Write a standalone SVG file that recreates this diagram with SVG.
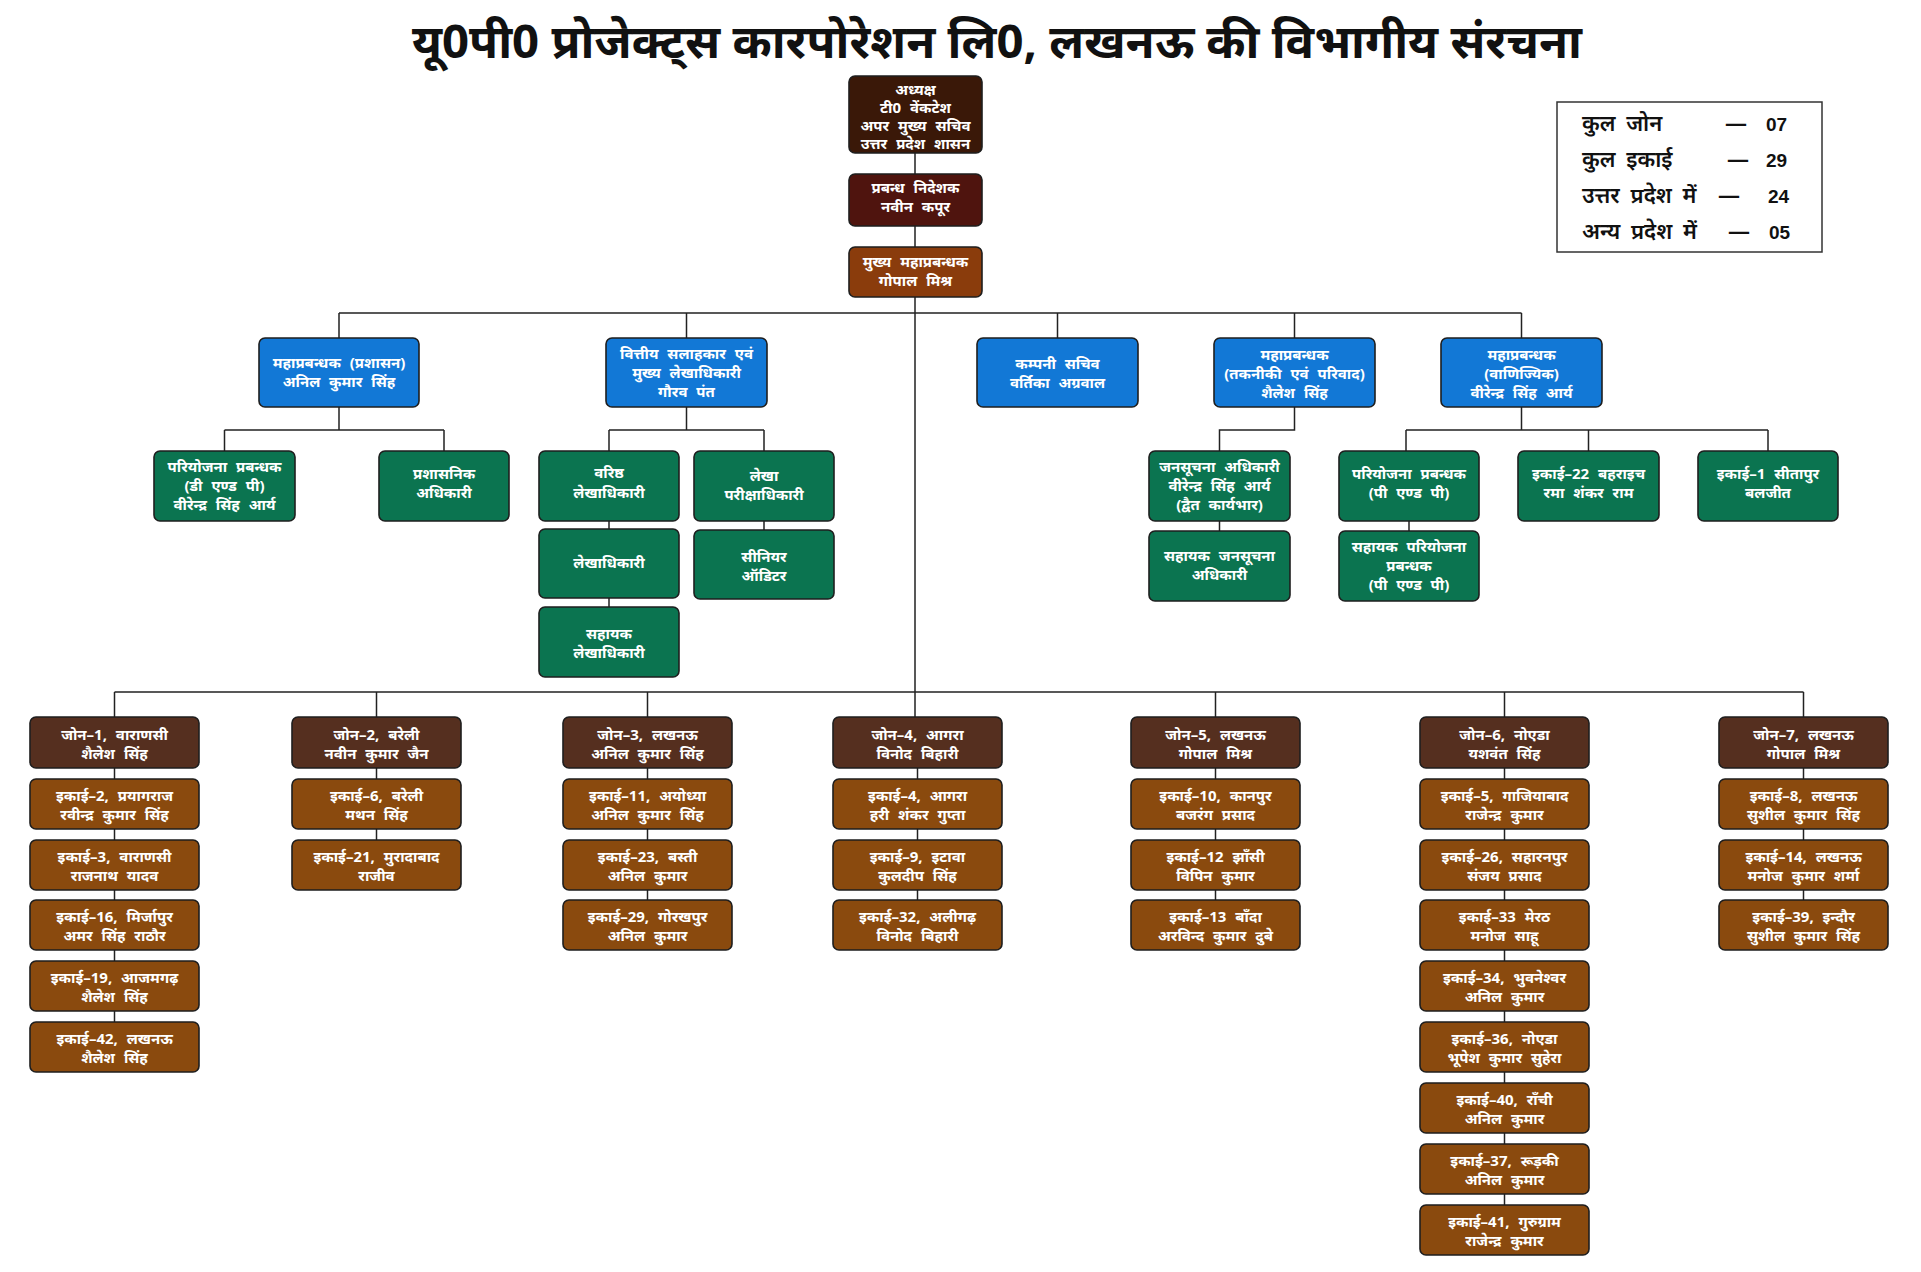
<svg xmlns="http://www.w3.org/2000/svg" width="1921" height="1272" viewBox="0 0 1921 1272">
<style>
text{font-family:"Noto Sans","Noto Sans Devanagari","Lohit Devanagari","FreeSans",sans-serif;fill:#fff;text-anchor:middle;font-size:15px;font-weight:bold;word-spacing:5px}
.title{fill:#111;font-size:46px;word-spacing:0}
.lg{fill:#111;text-anchor:start;font-size:22px;font-weight:600;word-spacing:5px}
.num{fill:#111;text-anchor:start;font-family:"Liberation Sans",Arial,sans-serif;font-size:19px;font-weight:bold}
rect.n{stroke:#1e1e1e;stroke-width:1.6}
.c1{fill:#3a1808}.c2{fill:#4f140e}.c3{fill:#8a3c0c}.bl{fill:#1278d6}.gr{fill:#0b7450}.zn{fill:#552f1f}.un{fill:#8a4a0e}
.ln{stroke:#222;stroke-width:1.5;fill:none}
</style>
<rect width="1921" height="1272" fill="#fff"/>
<text class="title" x="997" y="58" textLength="1170" lengthAdjust="spacingAndGlyphs">यू0पी0 प्रोजेक्ट्स कारपोरेशन लि0, लखनऊ की विभागीय संरचना</text>

<g id="legend">
<rect x="1557" y="102" width="265" height="150" fill="#fff" stroke="#333" stroke-width="1.5"/>
<text class="lg"><tspan x="1582" y="131">कुल जोन</tspan><tspan x="1725" y="131">—</tspan></text><text class="num" x="1766" y="131">07</text>
<text class="lg"><tspan x="1582" y="167">कुल इकाई</tspan><tspan x="1727" y="167">—</tspan></text><text class="num" x="1766" y="167">29</text>
<text class="lg"><tspan x="1582" y="203">उत्तर प्रदेश में</tspan><tspan x="1718" y="203">—</tspan></text><text class="num" x="1768" y="203">24</text>
<text class="lg"><tspan x="1582" y="239">अन्य प्रदेश में</tspan><tspan x="1728" y="239">—</tspan></text><text class="num" x="1769" y="239">05</text>
</g>

<g id="connectors">
<path class="ln" d="M915 153V174M915 226V247M915 297V717"/>
<path class="ln" d="M339 313H1521.5M339 313V338M686.5 313V338M1057.5 313V338M1294.5 313V338M1521.5 313V338"/>
<path class="ln" d="M339 407V430M224.5 430H444M224.5 430V451M444 430V451"/>
<path class="ln" d="M686.5 407V430M609 430H764M609 430V451M764 430V451M609 521V529M609 598V607M764 521V530"/>
<path class="ln" d="M1294.5 407V430H1219.5V451M1219.5 521V531"/>
<path class="ln" d="M1521.5 407V430M1406 430H1768M1406 430V451M1588.5 430V451M1768 430V451M1409 521V531"/>
<path class="ln" d="M114.5 692H1803.5M114.5 692V717M376.5 692V717M647.5 692V717M1215.5 692V717M1504.5 692V717M1803.5 692V717"/>
<path class="ln" d="M114.5 768V1022"/>
<path class="ln" d="M376.5 768V840"/>
<path class="ln" d="M647.5 768V900"/>
<path class="ln" d="M917.5 768V900"/>
<path class="ln" d="M1215.5 768V900"/>
<path class="ln" d="M1504.5 768V1205"/>
<path class="ln" d="M1803.5 768V900"/>
</g>

<g id="n-adhyaksh"><rect class="n c1" x="849" y="76" width="133" height="77" rx="6"/>
<text><tspan x="915.5" y="95">अध्यक्ष</tspan><tspan x="915.5" y="113">टी0 वेंकटेश</tspan><tspan x="915.5" y="131">अपर मुख्य सचिव</tspan><tspan x="915.5" y="149">उत्तर प्रदेश शासन</tspan></text></g>
<g id="n-md"><rect class="n c2" x="849" y="174" width="133" height="52" rx="6"/>
<text><tspan x="915.5" y="193">प्रबन्ध निदेशक</tspan><tspan x="915.5" y="212">नवीन कपूर</tspan></text></g>
<g id="n-cgm"><rect class="n c3" x="849" y="247" width="133" height="50" rx="6"/>
<text><tspan x="915.5" y="267">मुख्य महाप्रबन्धक</tspan><tspan x="915.5" y="286">गोपाल मिश्र</tspan></text></g>

<g id="n-gm-admin"><rect class="n bl" x="259" y="338" width="160" height="69" rx="6"/>
<text><tspan x="339" y="368">महाप्रबन्धक (प्रशासन)</tspan><tspan x="339" y="387">अनिल कुमार सिंह</tspan></text></g>
<g id="n-fa"><rect class="n bl" x="606" y="338" width="161" height="69" rx="6"/>
<text><tspan x="686.5" y="359">वित्तीय सलाहकार एवं</tspan><tspan x="686.5" y="378">मुख्य लेखाधिकारी</tspan><tspan x="686.5" y="397">गौरव पंत</tspan></text></g>
<g id="n-cs"><rect class="n bl" x="977" y="338" width="161" height="69" rx="6"/>
<text><tspan x="1057.5" y="369">कम्पनी सचिव</tspan><tspan x="1057.5" y="388">वर्तिका अग्रवाल</tspan></text></g>
<g id="n-gm-tech"><rect class="n bl" x="1214" y="338" width="161" height="69" rx="6"/>
<text><tspan x="1294.5" y="360">महाप्रबन्धक</tspan><tspan x="1294.5" y="379">(तकनीकी एवं परिवाद)</tspan><tspan x="1294.5" y="398">शैलेश सिंह</tspan></text></g>
<g id="n-gm-comm"><rect class="n bl" x="1441" y="338" width="161" height="69" rx="6"/>
<text><tspan x="1521.5" y="360">महाप्रबन्धक</tspan><tspan x="1521.5" y="379">(वाणिज्यिक)</tspan><tspan x="1521.5" y="398">वीरेन्द्र सिंह आर्य</tspan></text></g>

<g id="n-pm-dp"><rect class="n gr" x="154" y="451" width="141" height="70" rx="6"/>
<text><tspan x="224.5" y="472">परियोजना प्रबन्धक</tspan><tspan x="224.5" y="491">(डी एण्ड पी)</tspan><tspan x="224.5" y="510">वीरेन्द्र सिंह आर्य</tspan></text></g>
<g id="n-ao"><rect class="n gr" x="379" y="451" width="130" height="70" rx="6"/>
<text><tspan x="444" y="479">प्रशासनिक</tspan><tspan x="444" y="498">अधिकारी</tspan></text></g>
<g id="n-sr-acc"><rect class="n gr" x="539" y="451" width="140" height="70" rx="6"/>
<text><tspan x="609" y="478">वरिष्ठ</tspan><tspan x="609" y="498">लेखाधिकारी</tspan></text></g>
<g id="n-audit"><rect class="n gr" x="694" y="451" width="140" height="70" rx="6"/>
<text><tspan x="764" y="481">लेखा</tspan><tspan x="764" y="500">परीक्षाधिकारी</tspan></text></g>
<g id="n-acc"><rect class="n gr" x="539" y="529" width="140" height="69" rx="6"/>
<text x="609" y="568">लेखाधिकारी</text></g>
<g id="n-sr-aud"><rect class="n gr" x="694" y="530" width="140" height="69" rx="6"/>
<text><tspan x="764" y="562">सीनियर</tspan><tspan x="764" y="581">ऑडिटर</tspan></text></g>
<g id="n-asst-acc"><rect class="n gr" x="539" y="607" width="140" height="70" rx="6"/>
<text><tspan x="609" y="639">सहायक</tspan><tspan x="609" y="658">लेखाधिकारी</tspan></text></g>
<g id="n-pio"><rect class="n gr" x="1149" y="451" width="141" height="70" rx="6"/>
<text><tspan x="1219.5" y="472">जनसूचना अधिकारी</tspan><tspan x="1219.5" y="491">वीरेन्द्र सिंह आर्य</tspan><tspan x="1219.5" y="510">(द्वैत कार्यभार)</tspan></text></g>
<g id="n-apio"><rect class="n gr" x="1149" y="531" width="141" height="70" rx="6"/>
<text><tspan x="1219.5" y="561">सहायक जनसूचना</tspan><tspan x="1219.5" y="580">अधिकारी</tspan></text></g>
<g id="n-pm-pp"><rect class="n gr" x="1339" y="451" width="140" height="70" rx="6"/>
<text><tspan x="1409" y="479">परियोजना प्रबन्धक</tspan><tspan x="1409" y="498">(पी एण्ड पी)</tspan></text></g>
<g id="n-apm-pp"><rect class="n gr" x="1339" y="531" width="140" height="70" rx="6"/>
<text><tspan x="1409" y="552">सहायक परियोजना</tspan><tspan x="1409" y="571">प्रबन्धक</tspan><tspan x="1409" y="590">(पी एण्ड पी)</tspan></text></g>
<g id="n-u22"><rect class="n gr" x="1518" y="451" width="141" height="70" rx="6"/>
<text><tspan x="1588.5" y="479">इकाई–22 बहराइच</tspan><tspan x="1588.5" y="498">रमा शंकर राम</tspan></text></g>
<g id="n-u1"><rect class="n gr" x="1698" y="451" width="140" height="70" rx="6"/>
<text><tspan x="1768" y="479">इकाई–1 सीतापुर</tspan><tspan x="1768" y="498">बलजीत</tspan></text></g>

<g id="zone1"><rect class="n zn" x="30" y="717" width="169" height="51" rx="6"/>
<text><tspan x="114.5" y="740">जोन–1, वाराणसी</tspan><tspan x="114.5" y="759">शैलेश सिंह</tspan></text></g>
<g id="z1u2"><rect class="n un" x="30" y="779" width="169" height="50" rx="6"/><text><tspan x="114.5" y="801">इकाई–2, प्रयागराज</tspan><tspan x="114.5" y="820">रवीन्द्र कुमार सिंह</tspan></text></g>
<g id="z1u3"><rect class="n un" x="30" y="840" width="169" height="50" rx="6"/><text><tspan x="114.5" y="862">इकाई–3, वाराणसी</tspan><tspan x="114.5" y="881">राजनाथ यादव</tspan></text></g>
<g id="z1u16"><rect class="n un" x="30" y="900" width="169" height="50" rx="6"/><text><tspan x="114.5" y="922">इकाई–16, मिर्जापुर</tspan><tspan x="114.5" y="941">अमर सिंह राठौर</tspan></text></g>
<g id="z1u19"><rect class="n un" x="30" y="961" width="169" height="50" rx="6"/><text><tspan x="114.5" y="983">इकाई–19, आजमगढ़</tspan><tspan x="114.5" y="1002">शैलेश सिंह</tspan></text></g>
<g id="z1u42"><rect class="n un" x="30" y="1022" width="169" height="50" rx="6"/><text><tspan x="114.5" y="1044">इकाई–42, लखनऊ</tspan><tspan x="114.5" y="1063">शैलेश सिंह</tspan></text></g>

<g id="zone2"><rect class="n zn" x="292" y="717" width="169" height="51" rx="6"/>
<text><tspan x="376.5" y="740">जोन–2, बरेली</tspan><tspan x="376.5" y="759">नवीन कुमार जैन</tspan></text></g>
<g id="z2u6"><rect class="n un" x="292" y="779" width="169" height="50" rx="6"/><text><tspan x="376.5" y="801">इकाई–6, बरेली</tspan><tspan x="376.5" y="820">मथन सिंह</tspan></text></g>
<g id="z2u21"><rect class="n un" x="292" y="840" width="169" height="50" rx="6"/><text><tspan x="376.5" y="862">इकाई–21, मुरादाबाद</tspan><tspan x="376.5" y="881">राजीव</tspan></text></g>

<g id="zone3"><rect class="n zn" x="563" y="717" width="169" height="51" rx="6"/>
<text><tspan x="647.5" y="740">जोन–3, लखनऊ</tspan><tspan x="647.5" y="759">अनिल कुमार सिंह</tspan></text></g>
<g id="z3u11"><rect class="n un" x="563" y="779" width="169" height="50" rx="6"/><text><tspan x="647.5" y="801">इकाई–11, अयोध्या</tspan><tspan x="647.5" y="820">अनिल कुमार सिंह</tspan></text></g>
<g id="z3u23"><rect class="n un" x="563" y="840" width="169" height="50" rx="6"/><text><tspan x="647.5" y="862">इकाई–23, बस्ती</tspan><tspan x="647.5" y="881">अनिल कुमार</tspan></text></g>
<g id="z3u29"><rect class="n un" x="563" y="900" width="169" height="50" rx="6"/><text><tspan x="647.5" y="922">इकाई–29, गोरखपुर</tspan><tspan x="647.5" y="941">अनिल कुमार</tspan></text></g>

<g id="zone4"><rect class="n zn" x="833" y="717" width="169" height="51" rx="6"/>
<text><tspan x="917.5" y="740">जोन–4, आगरा</tspan><tspan x="917.5" y="759">विनोद बिहारी</tspan></text></g>
<g id="z4u4"><rect class="n un" x="833" y="779" width="169" height="50" rx="6"/><text><tspan x="917.5" y="801">इकाई–4, आगरा</tspan><tspan x="917.5" y="820">हरी शंकर गुप्ता</tspan></text></g>
<g id="z4u9"><rect class="n un" x="833" y="840" width="169" height="50" rx="6"/><text><tspan x="917.5" y="862">इकाई–9, इटावा</tspan><tspan x="917.5" y="881">कुलदीप सिंह</tspan></text></g>
<g id="z4u32"><rect class="n un" x="833" y="900" width="169" height="50" rx="6"/><text><tspan x="917.5" y="922">इकाई–32, अलीगढ़</tspan><tspan x="917.5" y="941">विनोद बिहारी</tspan></text></g>

<g id="zone5"><rect class="n zn" x="1131" y="717" width="169" height="51" rx="6"/>
<text><tspan x="1215.5" y="740">जोन–5, लखनऊ</tspan><tspan x="1215.5" y="759">गोपाल मिश्र</tspan></text></g>
<g id="z5u10"><rect class="n un" x="1131" y="779" width="169" height="50" rx="6"/><text><tspan x="1215.5" y="801">इकाई–10, कानपुर</tspan><tspan x="1215.5" y="820">बजरंग प्रसाद</tspan></text></g>
<g id="z5u12"><rect class="n un" x="1131" y="840" width="169" height="50" rx="6"/><text><tspan x="1215.5" y="862">इकाई–12 झाँसी</tspan><tspan x="1215.5" y="881">विपिन कुमार</tspan></text></g>
<g id="z5u13"><rect class="n un" x="1131" y="900" width="169" height="50" rx="6"/><text><tspan x="1215.5" y="922">इकाई–13 बाँदा</tspan><tspan x="1215.5" y="941">अरविन्द कुमार दुबे</tspan></text></g>

<g id="zone6"><rect class="n zn" x="1420" y="717" width="169" height="51" rx="6"/>
<text><tspan x="1504.5" y="740">जोन–6, नोएडा</tspan><tspan x="1504.5" y="759">यशवंत सिंह</tspan></text></g>
<g id="z6u5"><rect class="n un" x="1420" y="779" width="169" height="50" rx="6"/><text><tspan x="1504.5" y="801">इकाई–5, गाजियाबाद</tspan><tspan x="1504.5" y="820">राजेन्द्र कुमार</tspan></text></g>
<g id="z6u26"><rect class="n un" x="1420" y="840" width="169" height="50" rx="6"/><text><tspan x="1504.5" y="862">इकाई–26, सहारनपुर</tspan><tspan x="1504.5" y="881">संजय प्रसाद</tspan></text></g>
<g id="z6u33"><rect class="n un" x="1420" y="900" width="169" height="50" rx="6"/><text><tspan x="1504.5" y="922">इकाई–33 मेरठ</tspan><tspan x="1504.5" y="941">मनोज साहू</tspan></text></g>
<g id="z6u34"><rect class="n un" x="1420" y="961" width="169" height="50" rx="6"/><text><tspan x="1504.5" y="983">इकाई–34, भुवनेश्वर</tspan><tspan x="1504.5" y="1002">अनिल कुमार</tspan></text></g>
<g id="z6u36"><rect class="n un" x="1420" y="1022" width="169" height="50" rx="6"/><text><tspan x="1504.5" y="1044">इकाई–36, नोएडा</tspan><tspan x="1504.5" y="1063">भूपेश कुमार सुहेरा</tspan></text></g>
<g id="z6u40"><rect class="n un" x="1420" y="1083" width="169" height="50" rx="6"/><text><tspan x="1504.5" y="1105">इकाई–40, राँची</tspan><tspan x="1504.5" y="1124">अनिल कुमार</tspan></text></g>
<g id="z6u37"><rect class="n un" x="1420" y="1144" width="169" height="50" rx="6"/><text><tspan x="1504.5" y="1166">इकाई–37, रूड़की</tspan><tspan x="1504.5" y="1185">अनिल कुमार</tspan></text></g>
<g id="z6u41"><rect class="n un" x="1420" y="1205" width="169" height="50" rx="6"/><text><tspan x="1504.5" y="1227">इकाई–41, गुरुग्राम</tspan><tspan x="1504.5" y="1246">राजेन्द्र कुमार</tspan></text></g>

<g id="zone7"><rect class="n zn" x="1719" y="717" width="169" height="51" rx="6"/>
<text><tspan x="1803.5" y="740">जोन–7, लखनऊ</tspan><tspan x="1803.5" y="759">गोपाल मिश्र</tspan></text></g>
<g id="z7u8"><rect class="n un" x="1719" y="779" width="169" height="50" rx="6"/><text><tspan x="1803.5" y="801">इकाई–8, लखनऊ</tspan><tspan x="1803.5" y="820">सुशील कुमार सिंह</tspan></text></g>
<g id="z7u14"><rect class="n un" x="1719" y="840" width="169" height="50" rx="6"/><text><tspan x="1803.5" y="862">इकाई–14, लखनऊ</tspan><tspan x="1803.5" y="881">मनोज कुमार शर्मा</tspan></text></g>
<g id="z7u39"><rect class="n un" x="1719" y="900" width="169" height="50" rx="6"/><text><tspan x="1803.5" y="922">इकाई–39, इन्दौर</tspan><tspan x="1803.5" y="941">सुशील कुमार सिंह</tspan></text></g>
</svg>
